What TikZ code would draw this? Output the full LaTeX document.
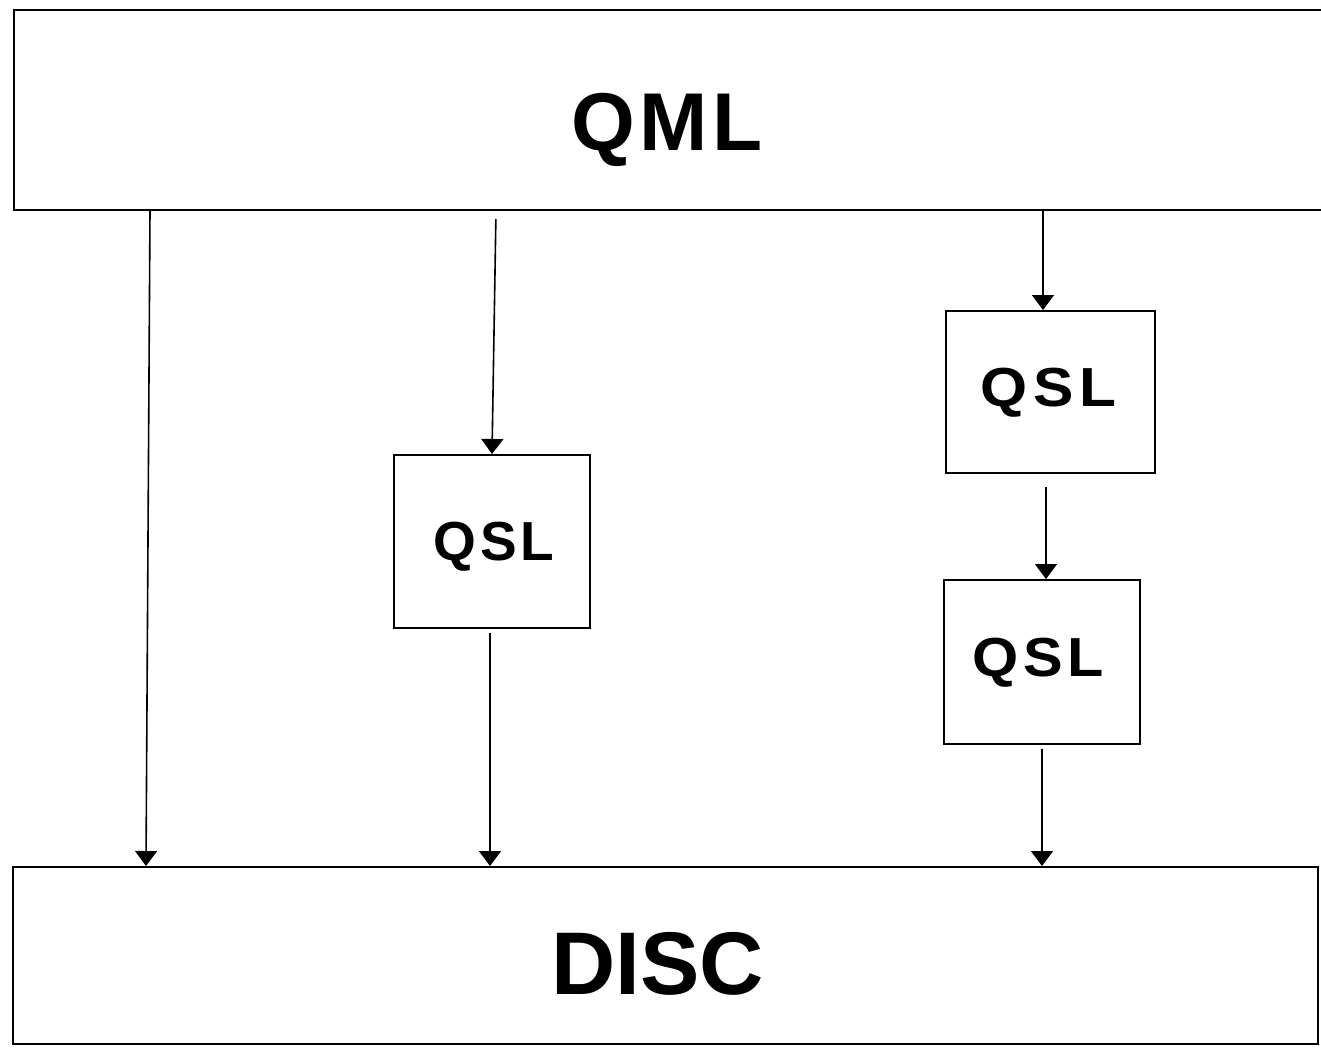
\documentclass[tikz,border=0pt]{standalone}
\usepackage{fontspec}
\usepackage{graphicx}
\setmainfont{Liberation Sans}
\usetikzlibrary{arrows.meta}
\begin{document}
\begin{tikzpicture}[x=1pt,y=-1pt,
  box/.style={draw=black, line width=2pt, rectangle, inner sep=0pt},
  arr/.style={draw=black, line width=1.6pt, -{Triangle[length=15pt,width=22pt]}},
  bigtxt/.style={font=\fontsize{82}{90}\selectfont\bfseries},
  disctxt/.style={font=\fontsize{89}{96}\selectfont\bfseries},
  qsltxt/.style={font=\fontsize{55}{60}\selectfont\bfseries}]
\useasboundingbox (0,0) rectangle (1321,1047);
\fill[white] (0,0) rectangle (1321,1047);
% boxes
\node[box, minimum width=1326pt, minimum height=200pt,
  label={[bigtxt, xshift=-10pt, yshift=-20pt]center:{\addfontfeature{LetterSpace=6}QML}}] (qml) at (677,110) {};
\node[box, minimum width=1305pt, minimum height=177pt,
  label={[disctxt, xshift=-8pt, yshift=-8pt]center:{DISC}}] (disc) at (665.5,955.5) {};
\node[box, minimum width=196pt, minimum height=173pt,
  label={[qsltxt, xshift=2pt, yshift=-5pt]center:{\addfontfeature{LetterSpace=7}QSL}}] (q1) at (492,541.5) {};
\node[box, minimum width=209pt, minimum height=162pt,
  label={[qsltxt, xshift=-2pt, yshift=-1pt]center:{\scalebox{1.1}[1]{\addfontfeature{LetterSpace=9}QSL}}}] (q2) at (1050.5,392) {};
\node[box, minimum width=196pt, minimum height=164pt,
  label={[qsltxt, xshift=-4pt, yshift=-1pt]center:{\scalebox{1.08}[1]{\addfontfeature{LetterSpace=8}QSL}}}] (q3) at (1042,662) {};
% connectors
\draw[arr] (qml.south -| 150,0) -- (disc.north -| 146,0);
\draw[arr, shorten <=8pt] (qml.south -| 496,0) -- (q1.north -| 492,0);
\draw[arr, shorten <=4pt] (q1.south -| 490,0) -- (disc.north -| 490,0);
\draw[arr] (qml.south -| 1043,0) -- (q2.north -| 1043,0);
\draw[arr, shorten <=13pt] (q2.south -| 1046,0) -- (q3.north -| 1046,0);
\draw[arr, shorten <=4pt] (q3.south -| 1042,0) -- (disc.north -| 1042,0);
\end{tikzpicture}
\end{document}
